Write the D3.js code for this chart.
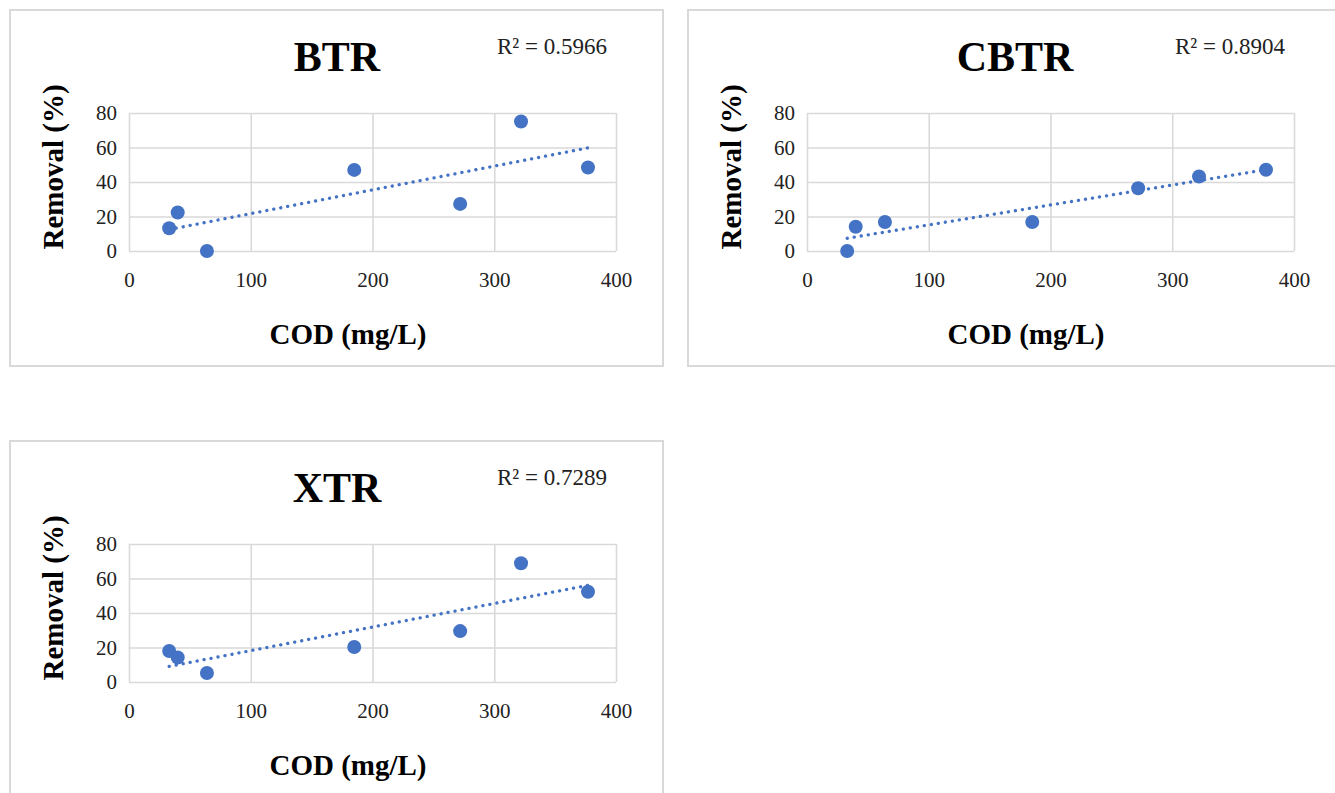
<!DOCTYPE html>
<html lang="en">
  <head>
    <title>COD vs Removal</title>
    <script src="https://d3js.org/d3.v7.min.js"></script>
    <style>
      body {
        margin: 0;
        background: #fff;
      }

      svg text {
        font-family: "Liberation Serif", "Times New Roman", serif;
        fill: #000;
      }

      .grid line {
        stroke: #d9d9d9;
        stroke-width: 1.6;
      }

      .frame {
        fill: #fff;
        stroke: #d9d9d9;
        stroke-width: 2;
      }

      .dot {
        fill: #4472c4;
      }

      .trend {
        fill: none;
        stroke: #4472c4;
        stroke-width: 3.3;
        stroke-linecap: round;
        stroke-dasharray: 0.1 7;
      }
    </style>
  </head>
  <body>
    <script>
      // values
      const codValues = [33, 40, 64, 185, 272, 322, 377];
      const btrRemoval = [13.2, 22.3, 0, 47, 27.3, 75.1, 48.4];
      const cbtrRemoval = [0, 14.1, 16.8, 16.8, 36.4, 43.2, 47.1];
      const xtrRemoval = [18, 14.2, 5.2, 20.3, 29.5, 68.8, 52.3];

      const panelNames = ['BTR', 'CBTR', 'XTR'];
      const rSquared = ['0.5966', '0.8904', '0.7289'];
      const xTicks = [0, 100, 200, 300, 400];
      const yTicks = [0, 20, 40, 60, 80];

      const removals = [btrRemoval, cbtrRemoval, xtrRemoval];
      const origins = [[10, 10], [688, 10], [10, 441]];

      const W = 1335;
      const H = 793;
      const boxW = 653;
      const boxH = 356;
      const plot = { left: 119, right: 606, top: 103, bottom: 241 };
      const serif = '"Liberation Serif", "Times New Roman", serif';

      const svg = d3.select('body')
                    .append('svg')
                    .attr('width', W)
                    .attr('height', H);

      svg.append('rect')
         .attr('width', W)
         .attr('height', H)
         .attr('fill', '#fff');

      const xScale = d3.scaleLinear()
                       .domain([0, 400])
                       .range([plot.left, plot.right]);

      const yScale = d3.scaleLinear()
                       .domain([0, 80])
                       .range([plot.bottom, plot.top]);

      // least squares line through the points
      function fit(xs, ys) {
        const mx = d3.mean(xs);
        const my = d3.mean(ys);
        let sxy = 0, sxx = 0;
        xs.forEach((x, i) => {
          sxy += (x - mx) * (ys[i] - my);
          sxx += (x - mx) * (x - mx);
        });
        const slope = sxy / sxx;
        return x => my + slope * (x - mx);
      }

      panelNames.forEach((name, p) => {
        const [ox, oy] = origins[p];
        const g = svg.append('g')
                     .attr('transform', `translate(${ox}, ${oy})`);

        g.append('rect')
         .attr('class', 'frame')
         .attr('width', p === 1 ? 670 : boxW)
         .attr('height', boxH);

        // gridlines
        g.append('g')
         .attr('class', 'grid')
         .attr('transform', `translate(0, ${plot.bottom})`)
         .call(d3.axisBottom(xScale).tickValues(xTicks).tickSize(-(plot.bottom - plot.top)).tickFormat(''))
         .call(a => a.select('.domain').remove());

        g.append('g')
         .attr('class', 'grid')
         .attr('transform', `translate(${plot.left}, 0)`)
         .call(d3.axisLeft(yScale).tickValues(yTicks).tickSize(-(plot.right - plot.left)).tickFormat(''))
         .call(a => a.select('.domain').remove());

        // tick labels
        g.append('g')
         .attr('transform', `translate(0, ${plot.bottom})`)
         .call(d3.axisBottom(xScale).tickValues(xTicks).tickSize(0).tickPadding(21))
         .call(a => a.select('.domain').remove())
         .attr('font-family', null)
         .selectAll('text')
          .style('font-size', '21px')
          .style('font-family', serif)
          .style('fill', '#222');

        g.append('g')
         .attr('transform', `translate(${plot.left}, 0)`)
         .call(d3.axisLeft(yScale).tickValues(yTicks).tickSize(0).tickPadding(12))
         .call(a => a.select('.domain').remove())
         .attr('font-family', null)
         .selectAll('text')
          .style('font-size', '21px')
          .style('font-family', serif)
          .style('fill', '#222');

        // trendline
        const xs = codValues;
        const ys = removals[p];
        const line = fit(xs, ys);
        const ends = d3.extent(xs);

        g.append('path')
         .attr('class', 'trend')
         .attr('d', d3.line().x(d => xScale(d)).y(d => yScale(line(d)))(ends));

        g.selectAll('circle')
         .data(xs.map((x, i) => [x, ys[i]]))
         .enter()
         .append('circle')
          .attr('class', 'dot')
          .attr('cx', d => xScale(d[0]))
          .attr('cy', d => yScale(d[1]))
          .attr('r', 7);

        // texts
        g.append('text')
         .attr('x', 327)
         .attr('y', 61)
         .attr('text-anchor', 'middle')
         .style('font-size', '42px')
         .style('font-weight', 'bold')
         .text(name);

        g.append('text')
         .attr('x', 487)
         .attr('y', 44)
         .style('font-size', '23px')
         .style('fill', '#222')
         .text(`R\u00b2 = ${rSquared[p]}`);

        g.append('text')
         .attr('x', 338)
         .attr('y', 334)
         .attr('text-anchor', 'middle')
         .style('font-size', '29px')
         .style('font-weight', 'bold')
         .text('COD (mg/L)');

        g.append('text')
         .attr('transform', 'translate(53, 157) rotate(-90)')
         .attr('text-anchor', 'middle')
         .style('font-size', '29px')
         .style('font-weight', 'bold')
         .text('Removal (%)');
      });
    </script>
  </body>
</html>
